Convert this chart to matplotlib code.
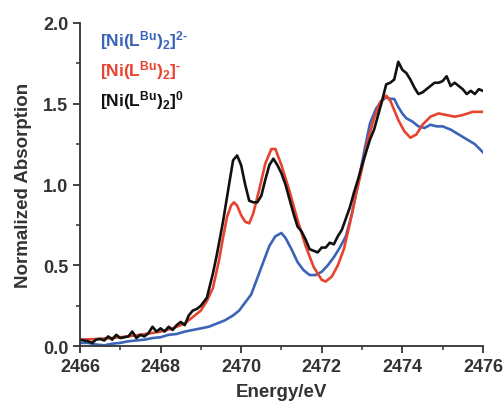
import matplotlib
matplotlib.use("Agg")
import matplotlib.pyplot as plt
from matplotlib.ticker import MultipleLocator

plt.rcParams['font.family'] = ['Liberation Sans', 'DejaVu Sans']
plt.rcParams['font.weight'] = 'bold'
plt.rcParams['mathtext.fontset'] = 'custom'
plt.rcParams['mathtext.bf'] = 'Liberation Sans:bold'
plt.rcParams['mathtext.rm'] = 'Liberation Sans:bold'

# データ
e_black = [2466.0, 2466.1, 2466.2, 2466.3, 2466.4, 2466.5, 2466.6, 2466.7, 2466.8, 2466.9,
           2467.0, 2467.1, 2467.2, 2467.3, 2467.4, 2467.5, 2467.6, 2467.7, 2467.8, 2467.9,
           2468.0, 2468.1, 2468.2, 2468.3, 2468.4, 2468.5, 2468.6, 2468.7, 2468.8, 2468.9,
           2469.0, 2469.15, 2469.3, 2469.4, 2469.55, 2469.7, 2469.8, 2469.9, 2470.0, 2470.1,
           2470.2, 2470.3, 2470.4, 2470.5, 2470.6, 2470.7, 2470.8, 2470.9, 2471.0, 2471.1,
           2471.2, 2471.3, 2471.4, 2471.5, 2471.6, 2471.7, 2471.8, 2471.9, 2472.0, 2472.1,
           2472.2, 2472.3, 2472.4, 2472.5, 2472.6, 2472.7, 2472.8, 2472.9, 2473.0, 2473.1,
           2473.2, 2473.3, 2473.4, 2473.5, 2473.6, 2473.7, 2473.8, 2473.9, 2474.0, 2474.1,
           2474.2, 2474.3, 2474.4, 2474.5, 2474.6, 2474.7, 2474.8, 2474.9, 2475.0, 2475.1,
           2475.2, 2475.3, 2475.4, 2475.5, 2475.6, 2475.7, 2475.8, 2475.9, 2476.0]
a_black = [0.04, 0.035, 0.03, 0.02, 0.04, 0.045, 0.035, 0.06, 0.04, 0.07,
           0.05, 0.055, 0.06, 0.09, 0.05, 0.07, 0.06, 0.08, 0.12, 0.09,
           0.11, 0.09, 0.12, 0.10, 0.13, 0.15, 0.13, 0.19, 0.22, 0.23,
           0.25, 0.30, 0.45, 0.57, 0.77, 1.00, 1.15, 1.18, 1.12, 1.00,
           0.90, 0.89, 0.89, 0.93, 1.03, 1.12, 1.16, 1.12, 1.07, 1.00,
           0.91, 0.82, 0.74, 0.71, 0.66, 0.60, 0.59, 0.58, 0.61, 0.61,
           0.64, 0.63, 0.68, 0.72, 0.79, 0.86, 0.95, 1.03, 1.12, 1.20,
           1.28, 1.34, 1.43, 1.52, 1.62, 1.63, 1.65, 1.76, 1.71, 1.69,
           1.65, 1.60, 1.56, 1.57, 1.59, 1.61, 1.63, 1.63, 1.64, 1.67,
           1.61, 1.63, 1.61, 1.59, 1.56, 1.58, 1.56, 1.59, 1.58]

e_red = [2466.0, 2466.5, 2467.0, 2467.5, 2468.0, 2468.3, 2468.6, 2468.8, 2469.0, 2469.15,
         2469.3, 2469.45, 2469.55, 2469.65, 2469.75, 2469.82, 2469.9, 2470.0, 2470.1, 2470.2,
         2470.3, 2470.45, 2470.6, 2470.75, 2470.85, 2471.0, 2471.2, 2471.4, 2471.6, 2471.8,
         2472.0, 2472.1, 2472.25, 2472.4, 2472.55, 2472.7, 2472.85, 2473.0, 2473.15, 2473.3,
         2473.45, 2473.6, 2473.7, 2473.8, 2473.9, 2474.05, 2474.2, 2474.35, 2474.5, 2474.7,
         2474.9, 2475.1, 2475.3, 2475.5, 2475.75, 2476.0]
a_red = [0.04, 0.045, 0.055, 0.07, 0.09, 0.11, 0.14, 0.18, 0.22, 0.28,
         0.36, 0.53, 0.67, 0.80, 0.87, 0.89, 0.87, 0.81, 0.77, 0.76,
         0.82, 0.97, 1.13, 1.22, 1.22, 1.12, 0.96, 0.78, 0.62, 0.49,
         0.41, 0.40, 0.43, 0.50, 0.60, 0.76, 0.94, 1.10, 1.28, 1.41,
         1.51, 1.55, 1.52, 1.46, 1.40, 1.33, 1.29, 1.31, 1.37, 1.42,
         1.44, 1.43, 1.42, 1.43, 1.45, 1.45]

e_blue = [2466.0, 2466.2, 2466.4, 2466.6, 2466.8, 2467.0, 2467.2, 2467.4, 2467.6, 2467.8,
          2468.0, 2468.2, 2468.4, 2468.6, 2468.8, 2469.0, 2469.2, 2469.4, 2469.6, 2469.8,
          2469.95, 2470.1, 2470.25, 2470.4, 2470.55, 2470.7, 2470.85, 2471.0, 2471.1, 2471.25,
          2471.4, 2471.55, 2471.7, 2471.85, 2472.0, 2472.15, 2472.3, 2472.45, 2472.6, 2472.75,
          2472.9, 2473.05, 2473.2, 2473.35, 2473.5, 2473.6, 2473.7, 2473.8, 2473.9, 2474.0,
          2474.1, 2474.25, 2474.4, 2474.55, 2474.7, 2474.85, 2475.0, 2475.2, 2475.4, 2475.6,
          2475.8, 2476.0]
a_blue = [0.02, 0.02, 0.01, 0.005, 0.015, 0.02, 0.03, 0.035, 0.04, 0.05,
          0.055, 0.07, 0.075, 0.09, 0.10, 0.11, 0.12, 0.14, 0.16, 0.19,
          0.22, 0.27, 0.32, 0.42, 0.52, 0.62, 0.68, 0.70, 0.67, 0.60,
          0.52, 0.47, 0.44, 0.44, 0.46, 0.50, 0.55, 0.61, 0.68, 0.82,
          1.00, 1.20, 1.38, 1.47, 1.52, 1.54, 1.53, 1.53, 1.48, 1.44,
          1.41, 1.39, 1.36, 1.35, 1.37, 1.36, 1.36, 1.34, 1.31, 1.28,
          1.25, 1.20]

labels = [r'$\mathbf{[Ni(L^{Bu})_2]^{2\text{-}}}$',
          r'$\mathbf{[Ni(L^{Bu})_2]^{\text{-}}}$',
          r'$\mathbf{[Ni(L^{Bu})_2]^{0}}$']
colors = ['#3b64b8', '#e8432e', '#111111']

gray = '#333333'
fig = plt.figure(figsize=(5.03, 4.06), dpi=100)
ax = fig.add_axes([0.159, 0.145, 0.801, 0.796])

ax.plot(e_blue, a_blue, color=colors[0], lw=1.9)
ax.plot(e_red, a_red, color=colors[1], lw=1.9)
ax.plot(e_black, a_black, color=colors[2], lw=1.9)

ax.set_xlim(2466, 2476)
ax.set_ylim(0, 2.0)
ax.xaxis.set_major_locator(MultipleLocator(2))
ax.xaxis.set_minor_locator(MultipleLocator(1))
ax.yaxis.set_major_locator(MultipleLocator(0.5))
ax.yaxis.set_minor_locator(MultipleLocator(0.25))
ax.spines['top'].set_visible(False)
ax.spines['right'].set_visible(False)
for s in ['left', 'bottom']:
    ax.spines[s].set_color(gray)
    ax.spines[s].set_linewidth(1.3)
ax.tick_params(which='major', direction='out', length=5, width=1.3, color=gray,
               labelsize=13, labelcolor=gray)
ax.tick_params(which='minor', direction='out', length=3, width=1.1, color=gray)
ax.yaxis.set_major_formatter(plt.FormatStrFormatter('%.1f'))

ax.set_xlabel('Energy/eV', fontsize=13.5, fontweight='bold', color=gray, labelpad=6)
ax.set_ylabel('Normalized Absorption', fontsize=13.5, fontweight='bold', color=gray, labelpad=8)

for i, (lab, c) in enumerate(zip(labels, colors)):
    ax.text(0.05, 0.95 - i * 0.093, lab, transform=ax.transAxes, color=c,
            fontsize=12.5, va='center', ha='left')

plt.savefig('out.png', dpi=100)
